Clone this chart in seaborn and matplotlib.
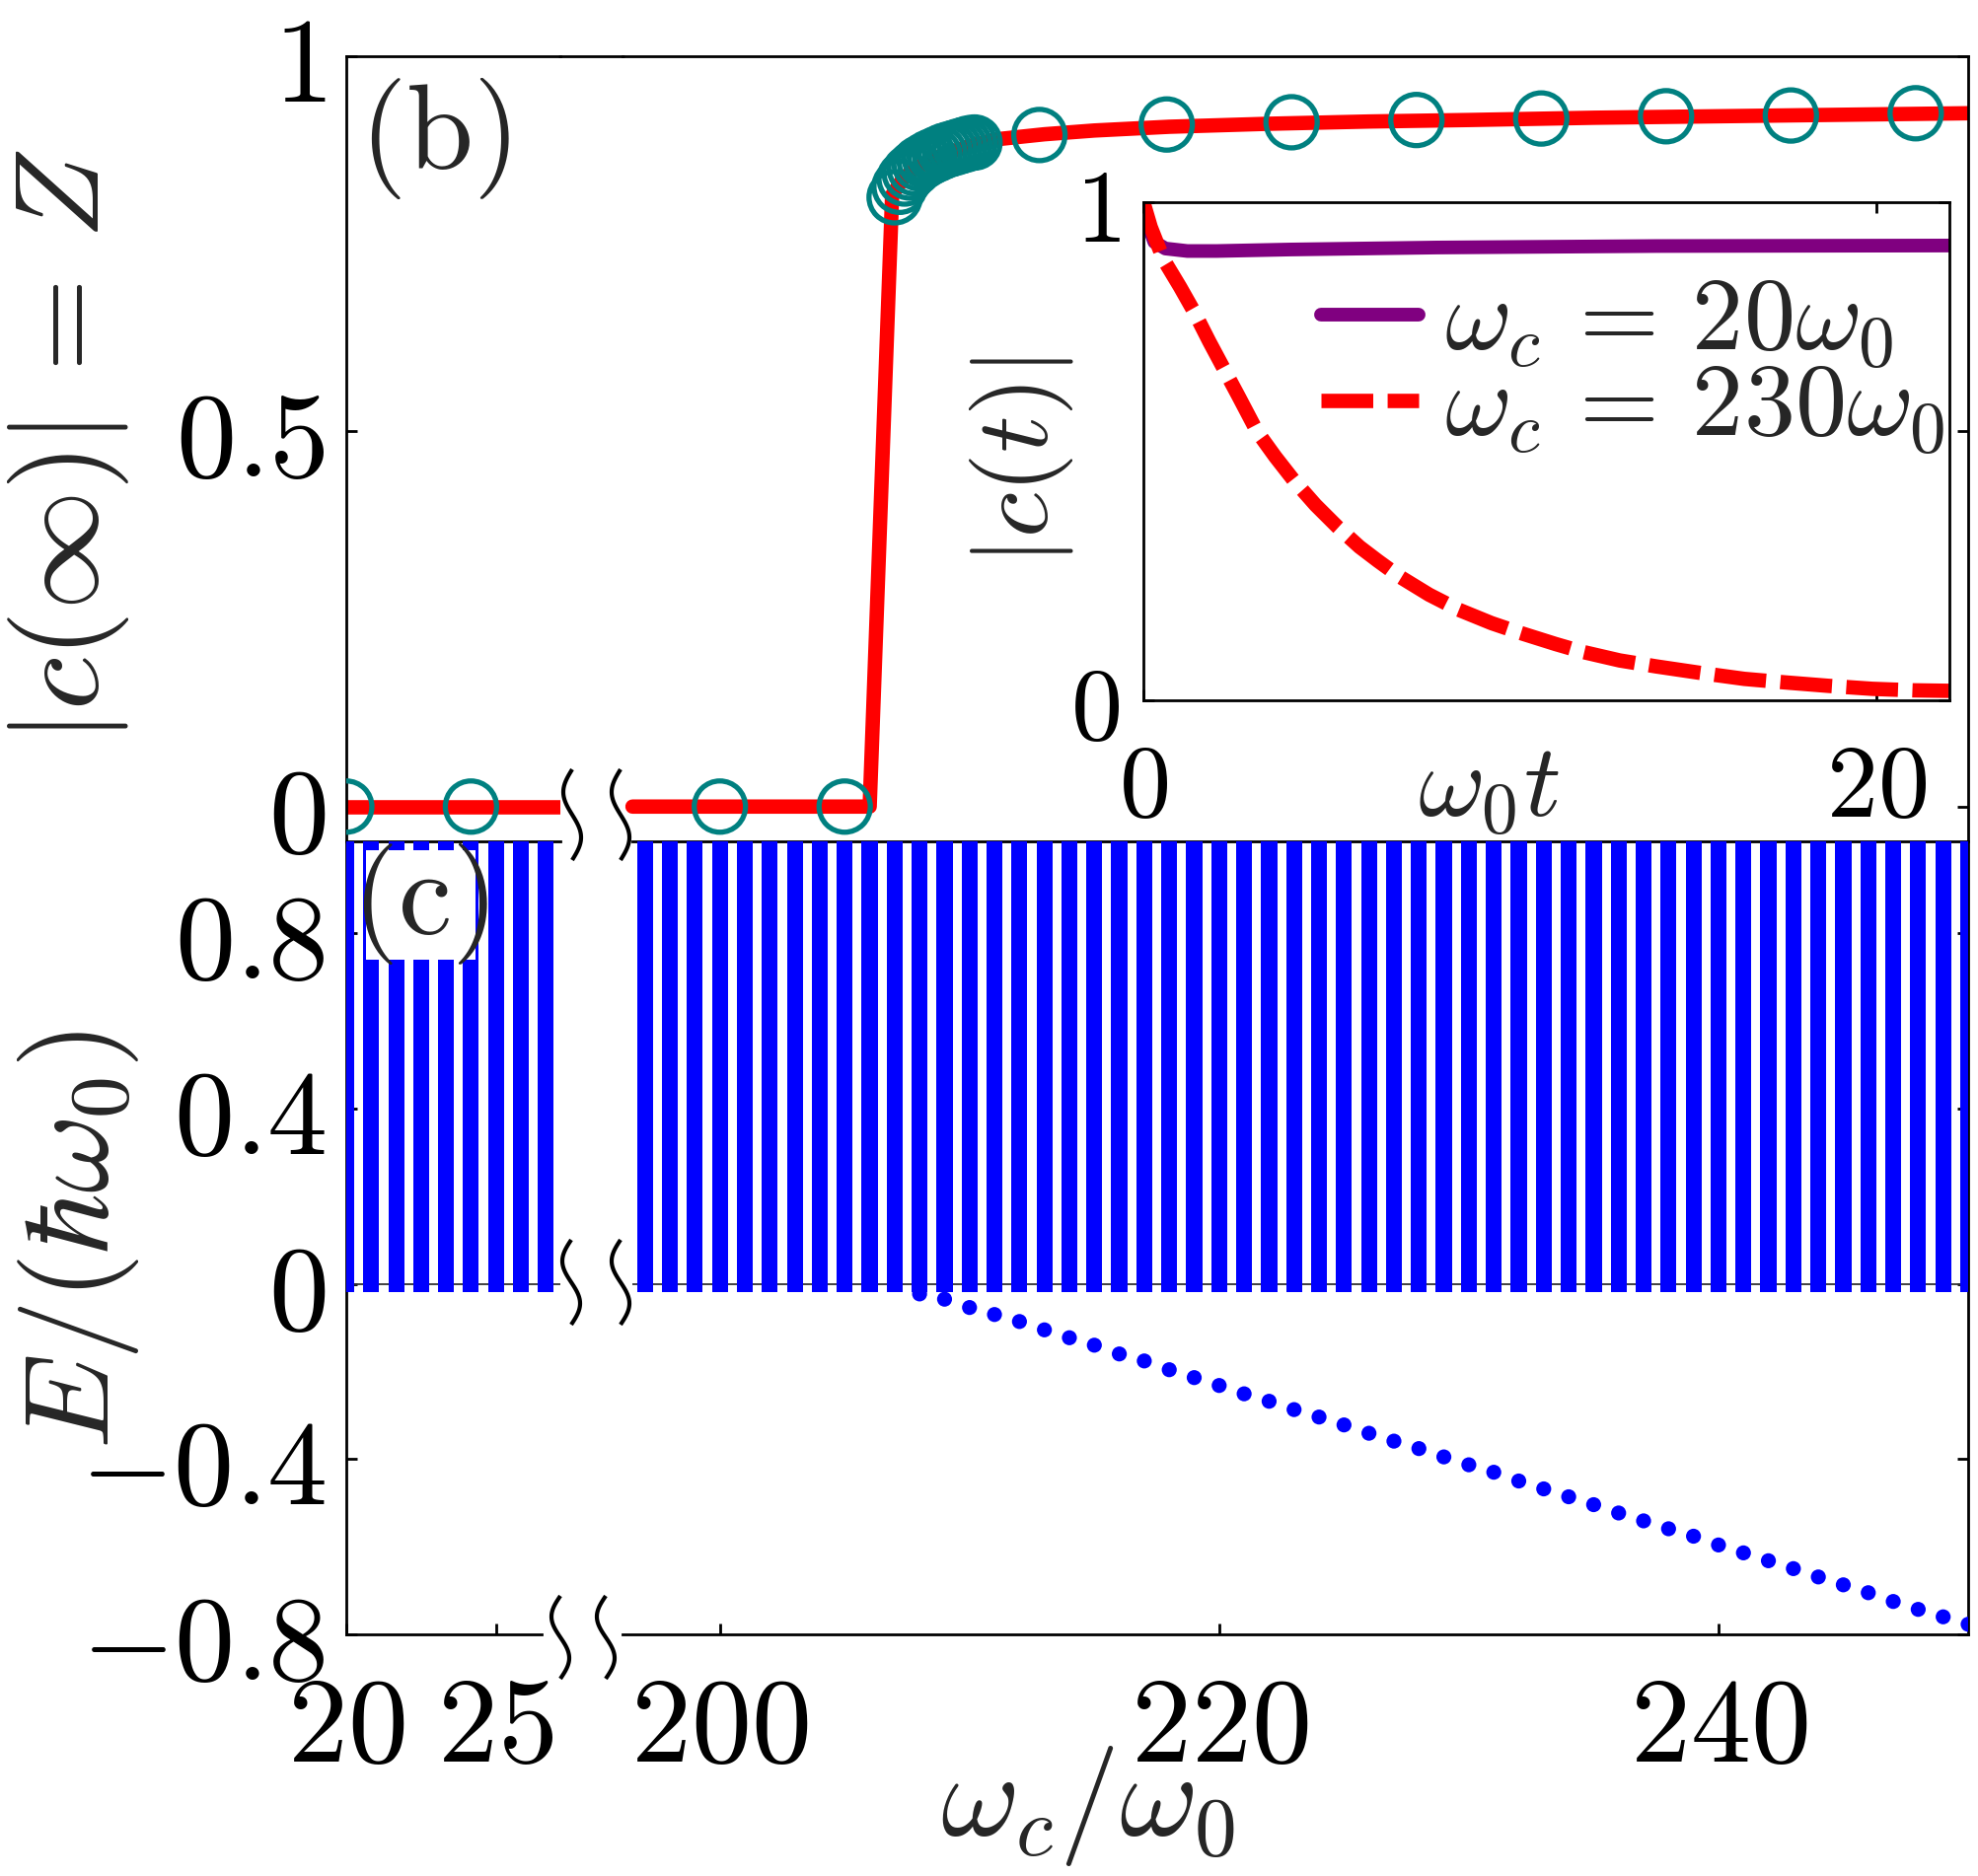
import numpy as np
import matplotlib
matplotlib.use("Agg")
import matplotlib.pyplot as plt
from matplotlib.lines import Line2D
from matplotlib.patches import Rectangle
import seaborn as sns

# ---- panel (b): |c(inf)| = Z versus omega_c/omega_0 ----
wc_red_left = [20.0, 27.2]
z_red_left = [0.0, 0.0]
wc_red_right = [196.5, 206.0, 206.9, 207.3, 207.8, 208.5, 209.3, 210.2, 211.0,
                213.0, 215.0, 218.0, 222.0, 226.0, 230.0, 235.0, 240.0, 245.0, 250.0]
z_red_right = [0.0, 0.0, 0.815, 0.835, 0.85, 0.862, 0.873, 0.882, 0.889,
               0.896, 0.901, 0.906, 0.91, 0.913, 0.915, 0.918, 0.92, 0.922, 0.924]

wc_circ_left = [20.0, 24.17]
z_circ_left = [0.0, 0.0]
wc_circ_right = [200.0, 205.0,
                 207.0, 207.2, 207.4, 207.6, 207.8, 208.0, 208.2, 208.4, 208.6,
                 208.8, 209.0, 209.2, 209.4, 209.6, 209.8, 210.0, 210.2,
                 212.8, 217.9, 222.9, 227.9, 232.9, 237.9, 242.9, 247.9]
z_circ_right = [0.0, 0.0,
                0.812, 0.826, 0.837, 0.845, 0.851, 0.857, 0.861, 0.865, 0.868,
                0.871, 0.874, 0.876, 0.878, 0.880, 0.882, 0.884, 0.885,
                0.895, 0.909, 0.912, 0.915, 0.917, 0.92, 0.921, 0.924]

# ---- inset: |c(t)| versus omega_0 t ----
t_20 = [0.0, 0.1, 0.3, 0.6, 1.2, 2.0, 4.0, 8.0, 14.0, 22.0]
c_20 = [1.0, 0.96, 0.92, 0.907, 0.902, 0.902, 0.905, 0.909, 0.912, 0.913]
t_230 = [0.0, 0.2, 0.55, 1.0, 1.4, 1.8, 2.2, 2.6, 3.1, 3.6, 4.1, 4.7, 5.3, 5.9, 6.4,
         7.0, 7.8, 8.6, 9.5, 10.3, 11.25, 12.0, 13.0, 14.0, 15.2, 16.4, 17.5, 18.7,
         19.9, 21.0, 22.0]
c_230 = [1.0, 0.95, 0.885, 0.83, 0.778, 0.72, 0.665, 0.61, 0.54, 0.489, 0.442, 0.392,
         0.348, 0.308, 0.28, 0.248, 0.212, 0.182, 0.155, 0.135, 0.113, 0.097, 0.08,
         0.068, 0.055, 0.043, 0.036, 0.029, 0.023, 0.02, 0.019]

# ---- panel (c): spectrum E/(hbar omega_0) ----
wc_cont_left = [20.0, 20.83, 21.67, 22.5, 23.33, 24.17, 25.0, 25.83, 26.67]
wc_cont_right = [197, 198, 199, 200, 201, 202, 203, 204, 205, 206, 207, 208, 209, 210,
                 211, 212, 213, 214, 215, 216, 217, 218, 219, 220, 221, 222, 223, 224,
                 225, 226, 227, 228, 229, 230, 231, 232, 233, 234, 235, 236, 237, 238,
                 239, 240, 241, 242, 243, 244, 245, 246, 247, 248, 249, 250]
cont_low, cont_high = -0.018, 1.1

wc_bound = [208, 209, 210, 211, 212, 213, 214, 215, 216, 217, 218, 219, 220, 221, 222,
            223, 224, 225, 226, 227, 228, 229, 230, 231, 232, 233, 234, 235, 236, 237,
            238, 239, 240, 241, 242, 243, 244, 245, 246, 247, 248, 249, 250]
E_bound = [-0.023, -0.035, -0.054, -0.070, -0.086, -0.105, -0.123, -0.140, -0.160,
           -0.176, -0.196, -0.214, -0.232, -0.251, -0.268, -0.287, -0.304, -0.322,
           -0.341, -0.359, -0.376, -0.395, -0.413, -0.430, -0.450, -0.468, -0.486,
           -0.504, -0.523, -0.541, -0.559, -0.576, -0.596, -0.614, -0.632, -0.650,
           -0.669, -0.687, -0.705, -0.725, -0.743, -0.760, -0.777]

sns.set_theme(style="ticks")
plt.rcParams.update({
    "mathtext.fontset": "cm",
    "axes.linewidth": 2.0,
    "axes.edgecolor": "black",
    "xtick.color": "black", "ytick.color": "black",
    "xtick.direction": "in", "ytick.direction": "in",
    "xtick.major.size": 8, "ytick.major.size": 8,
    "xtick.major.width": 2, "ytick.major.width": 2,
})
plt.rcParams["font.family"] = ["DejaVu Serif"]

W, H = 2005, 1902
fig = plt.figure(figsize=(W / 100, H / 100), dpi=100)


def px_axes(x0, y0, x1, y1):
    return fig.add_axes([x0 / W, 1 - y1 / H, (x1 - x0) / W, (y1 - y0) / H])


TL = px_axes(351, 57, 568, 852)
TR = px_axes(631, 57, 1995, 852)
BL = px_axes(351, 853, 568, 1657)
BR = px_axes(631, 853, 1995, 1657)
ins = px_axes(1159, 205, 1976, 710)

FS = 88
FSI = 75
RED, TEAL, BLUE, PURPLE = "#ff0000", "#008080", "#0000ff", "#800080"


def mlab(vals, fmt):
    return ["$" + fmt.format(v) + "$" for v in vals]


# panel (b)
for ax, wx, wy, cx, cy in [(TL, wc_red_left, z_red_left, wc_circ_left, z_circ_left),
                           (TR, wc_red_right, z_red_right, wc_circ_right, z_circ_right)]:
    sns.lineplot(x=wx, y=wy, ax=ax, color=RED, lw=10.5, zorder=2, sort=False)
    sns.scatterplot(x=cx, y=cy, ax=ax, s=1400, facecolor="none", edgecolor=TEAL,
                    linewidth=3.8, zorder=3)
    ax.set_ylim(-0.045, 1.0)
    ax.set_yticks([0, 0.5, 1])
    ax.tick_params(axis="x", bottom=False, top=False, labelbottom=False)
    ax.spines["bottom"].set_visible(False)

TL.set_xlim(20, 27.16)
TR.set_xlim(196.1, 250)
TL.spines["right"].set_visible(False)
TR.spines["left"].set_visible(False)
TL.set_yticklabels(["$0$", "$0.5$", "$1$"])
TL.tick_params(axis="y", left=True, right=False, labelsize=FS, pad=15)
TR.tick_params(axis="y", left=False, right=True, labelleft=False)
TL.set_ylabel(r"$|c(\infty)|\,=\,Z$", fontsize=FS)
TL.yaxis.label.set_va("center")
TL.yaxis.set_label_coords(-1.295, 0.503)

# panel (c)
for ax, wc, wid in [(BL, wc_cont_left, 0.53), (BR, wc_cont_right, 0.64)]:
    ax.bar(wc, cont_high - cont_low, bottom=cont_low, width=wid, color=BLUE,
           edgecolor="none", zorder=3)
    ax.set_ylim(-0.8, 1.01)
    ax.set_yticks([-0.8, -0.4, 0, 0.4, 0.8])

BL.hlines(0, 20, 27.16, colors="#333333", lw=1.3, zorder=1)
BR.hlines(0, 196.5, 250, colors="#333333", lw=1.3, zorder=1)
sns.scatterplot(x=wc_bound, y=E_bound, ax=BR, color=BLUE, s=120, edgecolor="none",
                zorder=4)

BL.set_xlim(20, 27.16)
BR.set_xlim(196.1, 250)
BL.spines["right"].set_visible(False)
BR.spines["left"].set_visible(False)
BL.spines["bottom"].set_bounds(20, 26.53)
BR.spines["top"].set_bounds(196.5, 250)
BL.set_yticklabels(mlab([-0.8, -0.4, 0, 0.4, 0.8], "{:g}"))
BL.tick_params(axis="y", left=True, right=False, labelsize=FS, pad=15)
BR.tick_params(axis="y", left=False, right=True, labelleft=False)
BL.set_xticks([20, 25])
BL.set_xticklabels(["$20$", "$25$"])
BR.set_xticks([200, 220, 240])
BR.set_xticklabels(["$200$", "$220$", "$240$"])
for ax in (BL, BR):
    ax.tick_params(axis="x", bottom=True, top=False, labelsize=FS, pad=27)
BL.set_ylabel(r"$E/(\hbar\omega_0)$", fontsize=FS)
BL.yaxis.label.set_va("center")
BL.yaxis.set_label_coords(-1.249, 0.4975)
BR.set_xlabel(r"$\omega_c/\omega_0$", fontsize=FS)
BR.xaxis.label.set_va("center")
BR.xaxis.set_label_coords(0.346, -0.216)

# inset
sns.lineplot(x=t_20, y=c_20, ax=ins, color=PURPLE, lw=10, sort=False,
             label=r"$\omega_c\,=\,20\omega_0$")
sns.lineplot(x=t_230, y=c_230, ax=ins, color=RED, lw=10.5, sort=False,
             linestyle=(0, (3.6, 1.0)), label=r"$\omega_c\,=\,230\omega_0$")
ins.set_xlim(0, 22)
ins.set_ylim(0, 1)
ins.set_xticks([0, 20])
ins.set_xticklabels(["$0$", "$20$"])
ins.set_yticks([0, 1])
ins.set_yticklabels(["$0$", "$1$"])
ins.tick_params(axis="x", top=True, labelsize=FSI, pad=27)
ins.tick_params(axis="y", right=True, labelsize=FSI, pad=17)
ins.set_xlabel(r"$\omega_0 t$", fontsize=FSI)
ins.xaxis.label.set_va("center")
ins.xaxis.set_label_coords(0.428, -0.176)
ins.set_ylabel(r"$|c(t)|$", fontsize=FSI)
ins.yaxis.label.set_va("center")
ins.yaxis.set_label_coords(-0.1506, 0.481)
ins.legend(loc="upper right", bbox_to_anchor=(0.995, 0.86), frameon=False,
           fontsize=FSI, handlelength=0.95, handletextpad=0.25, labelspacing=-0.15,
           borderpad=0, borderaxespad=0)

# panel letters
fig.text(440 / W, 1 - 141 / H, r"$\mathrm{(b)}$", fontsize=FS, ha="center", va="center")
fig.add_artist(Rectangle((371 / W, 1 - 973 / H), 111 / W, 111 / H,
                         transform=fig.transFigure, facecolor="white",
                         edgecolor="none", zorder=10))
fig.text(426 / W, 1 - 917 / H, r"$\mathrm{(c)}$", fontsize=FS, ha="center",
         va="center", zorder=11)

# top spine bridging the gap of panel (b)
fig.add_artist(Line2D([567 / W, 632 / W], [1 - 57 / H, 1 - 57 / H],
                      transform=fig.transFigure, color="black", lw=2.0, zorder=10))

# wavy axis-break marks
s = np.linspace(0, 1, 60)
for xc_list, yc, hh in [([580, 629], 826, 46), ([579, 629], 1300, 43),
                        ([568, 614], 1660, 42)]:
    for xc in xc_list:
        xs = xc - 9 * np.sin(2 * np.pi * s)
        ys = yc - hh * (1 - 2 * s)
        fig.add_artist(Line2D(xs / W, 1 - ys / H, transform=fig.transFigure,
                              color="black", lw=3.0, zorder=12,
                              solid_capstyle="butt"))

fig.savefig("out.png", dpi=100)
